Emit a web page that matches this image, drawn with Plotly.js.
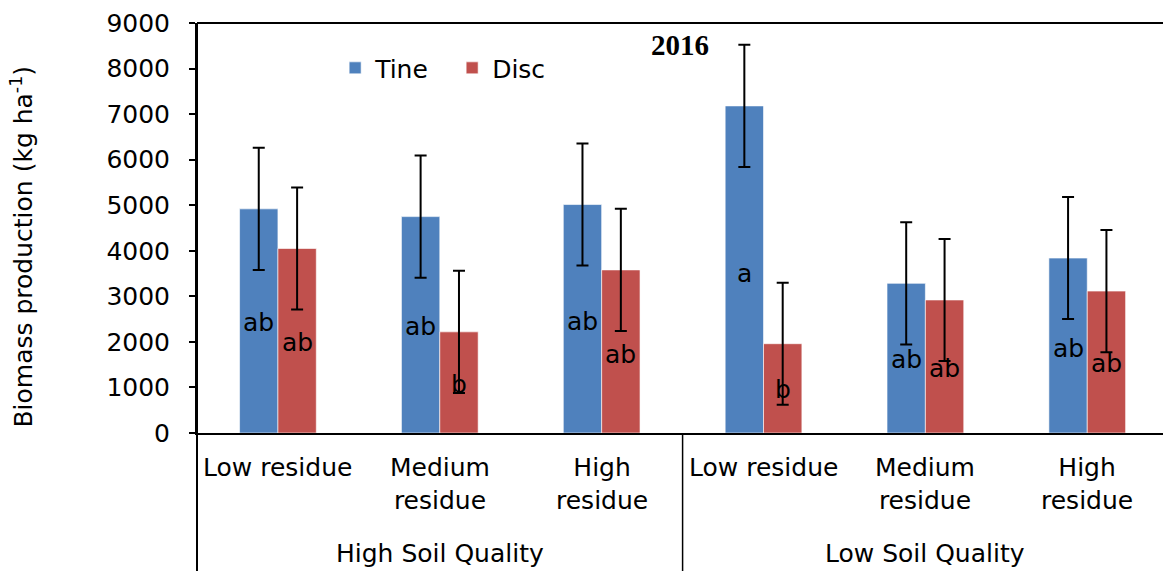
<!DOCTYPE html>
<html>
<head>
<meta charset="utf-8">
<script src="https://cdn.plot.ly/plotly-3.0.1.min.js"></script>
<style>
  html, body { margin: 0; padding: 0; background: #fff; }
  #chart { width: 1163px; height: 571px; }
</style>
</head>
<body>
<div id="chart"></div>
<script>
// ---- data ----
const residueLabels = ["Low residue", "Medium<br>residue", "High<br>residue", "Low residue", "Medium<br>residue", "High<br>residue"];
const soilGroups = ["High Soil Quality", "Low Soil Quality"];
const tineValues = [4920, 4750, 5015, 7180, 3285, 3840];
const discValues = [4050, 2220, 3580, 1960, 2920, 3115];
const tineError = [1340, 1340, 1340, 1340, 1340, 1340];
const discError = [1340, 1340, 1340, 1340, 1340, 1340];
const tineLetters = ["ab", "ab", "ab", "a", "ab", "ab"];
const discLetters = ["ab", "b", "ab", "b", "ab", "ab"];
const yearLabel = "2016";

// ---- layout helpers (positions only) ----
const tineLetterY = [2420, 2340, 2450, 3510, 1610, 1860];
const discLetterY = [1980, 1060, 1720, 950, 1420, 1530];
const barOffset = 0.118;
const xIdx = residueLabels.map((_, i) => i);

const FONT = "DejaVu Sans, Liberation Sans, Arial, sans-serif";

const traces = [
  {
    type: "bar", name: "Tine", x: xIdx, y: tineValues,
    marker: { color: "#4F81BD", line: { color: "rgba(255,255,255,0.6)", width: 1 } },
    error_y: { type: "data", array: tineError, visible: true, color: "#000", thickness: 2, width: 6 }
  },
  {
    type: "bar", name: "Disc", x: xIdx, y: discValues,
    marker: { color: "#C0504D", line: { color: "rgba(255,255,255,0.6)", width: 1 } },
    error_y: { type: "data", array: discError, visible: true, color: "#000", thickness: 2, width: 6 }
  }
];

const annotations = [];
xIdx.forEach(i => {
  annotations.push({ x: i - barOffset, y: tineLetterY[i], xref: "x", yref: "y", text: tineLetters[i],
    showarrow: false, font: { family: FONT, size: 25, color: "#000" } });
  annotations.push({ x: i + barOffset, y: discLetterY[i], xref: "x", yref: "y", text: discLetters[i],
    showarrow: false, font: { family: FONT, size: 25, color: "#000" } });
  annotations.push({ x: i, y: 0, xref: "x", yref: "y", text: residueLabels[i], yanchor: "top", yshift: -18,
    showarrow: false, align: "center", font: { family: FONT, size: 25, color: "#000" } });
});
soilGroups.forEach((g, k) => {
  annotations.push({ x: 1 + 3 * k, y: 0, xref: "x", yref: "y", text: g, yanchor: "middle", yshift: -120,
    showarrow: false, font: { family: FONT, size: 25, color: "#000" } });
});
annotations.push({ x: 2.485, y: 8510, xref: "x", yref: "y", text: "<b>" + yearLabel + "</b>",
  showarrow: false, font: { family: "Liberation Serif, Times New Roman, serif", size: 29, color: "#000" } });
annotations.push({ x: -0.181, y: 0.455, xref: "paper", yref: "paper", xanchor: "center", yanchor: "middle", textangle: -90,
  text: "Biomass production (kg ha<sup>-1</sup>)", showarrow: false,
  font: { family: FONT, size: 25, color: "#000" } });

const shapes = [
  { type: "line", xref: "paper", yref: "paper", x0: 0, x1: 1, y0: 1, y1: 1, line: { color: "#000", width: 2 } },
  { type: "line", xref: "paper", yref: "paper", x0: 0, x1: 0, y0: 1, y1: -0.36, line: { color: "#000", width: 2 } },
  { type: "line", xref: "x", yref: "paper", x0: 2.5, x1: 2.5, y0: 0, y1: -0.36, line: { color: "#000", width: 1.5 } }
];

const layout = {
  width: 1163, height: 571,
  margin: { l: 197, r: 0, t: 23, b: 138, pad: 0 },
  paper_bgcolor: "#fff", plot_bgcolor: "#fff",
  barmode: "group", bargap: 0.526, bargroupgap: 0,
  showlegend: true,
  legend: { orientation: "h", x: 0.143, y: 0.89, xanchor: "left", yanchor: "middle",
    font: { family: FONT, size: 25, color: "#000" }, bgcolor: "rgba(0,0,0,0)", entrywidth: 72, itemwidth: 30 },
  xaxis: { range: [-0.5, 5.468], showticklabels: false, ticks: "", showgrid: false, zeroline: false,
    showline: true, linecolor: "#000", linewidth: 2, fixedrange: true },
  yaxis: { range: [0, 9000], dtick: 1000, tick0: 0, ticks: "outside", ticklen: 6, tickwidth: 2, tickcolor: "#000",
    showline: true, linecolor: "#000", linewidth: 2, showgrid: false, zeroline: false,
    ticklabelstandoff: 14,
    tickfont: { family: FONT, size: 25, color: "#000" } },
  annotations: annotations,
  shapes: shapes
};

Plotly.newPlot("chart", traces, layout, { displayModeBar: false, staticPlot: true });
</script>
</body>
</html>
